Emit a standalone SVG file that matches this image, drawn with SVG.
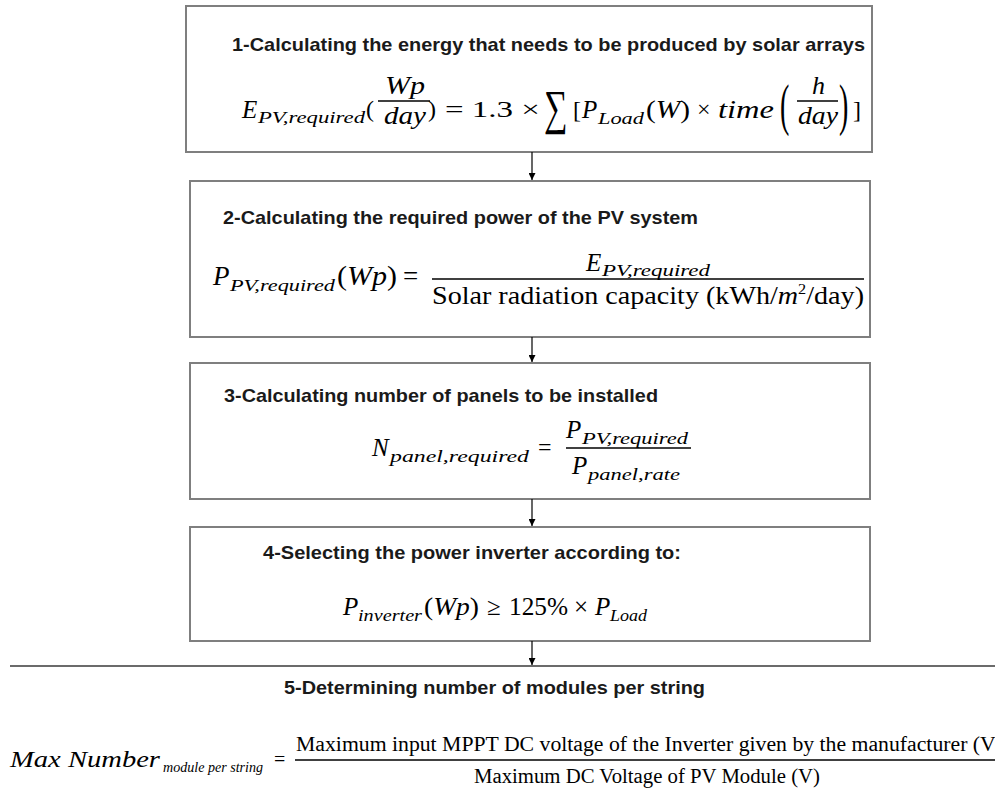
<svg xmlns="http://www.w3.org/2000/svg" width="995" height="798" viewBox="0 0 995 798">
<style>
.box{fill:#fff;stroke:#7f7f7f;stroke-width:2}
.t{font-family:"Liberation Sans",Arial,sans-serif;font-weight:bold;font-size:19px;fill:#1a1a1a}
.m{font-family:"Liberation Serif","Times New Roman",serif;font-size:24px;fill:#000}
.s{font-family:"Liberation Serif","Times New Roman",serif;font-size:16px;font-style:italic;fill:#000}
.i{font-style:italic}
.bar{stroke:#000;stroke-width:1.3}
.conn line{stroke:#000;stroke-width:1.2}
</style>
<defs>
<marker id="ah" viewBox="0 0 10 10" refX="10" refY="5" markerWidth="7" markerHeight="7" orient="auto" markerUnits="userSpaceOnUse">
<path d="M0,0 L10,5 L0,10 z" fill="#000"/>
</marker>
</defs>
<rect width="995" height="798" fill="#fff"/>

<g id="node1">
<rect class="box" x="186" y="6" width="686" height="146"/>
<text class="t" x="232" y="51" textLength="633" lengthAdjust="spacingAndGlyphs">1-Calculating the energy that needs to be produced by solar arrays</text>
<text class="m i" x="242" y="118" style="font-size:25px">E</text>
<text class="s" x="258" y="123" textLength="107" lengthAdjust="spacingAndGlyphs">PV,required</text>
<text class="m" x="366" y="117">(</text>
<text class="m i" x="385" y="94" style="font-size:26px" textLength="40" lengthAdjust="spacingAndGlyphs">Wp</text>
<line class="bar" x1="378" y1="101" x2="430" y2="101"/>
<text class="m i" x="384" y="124" style="font-size:26px" textLength="42" lengthAdjust="spacingAndGlyphs">day</text>
<text class="m" x="428" y="117">)</text>
<text class="m" x="445" y="117" textLength="95" lengthAdjust="spacingAndGlyphs">= 1.3 ×</text>
<text class="m" transform="translate(544,124) scale(0.75,1.1)" style="font-size:44px">∑</text>
<text class="m" x="573" y="118">[</text>
<text class="m i" x="582" y="118" style="font-size:25px">P</text>
<text class="s" x="598" y="124" textLength="46" lengthAdjust="spacingAndGlyphs">Load</text>
<text class="m" x="646" y="118" style="font-size:25px" textLength="44" lengthAdjust="spacingAndGlyphs">(<tspan class="i">W</tspan>)</text>
<text class="m" x="697" y="117">×</text>
<text class="m i" x="718" y="118" style="font-size:26px" textLength="56" lengthAdjust="spacingAndGlyphs">time</text>
<text class="m" transform="translate(780,124) scale(0.5,1)" style="font-size:56px">(</text>
<text class="m i" x="812" y="94" style="font-size:26px">h</text>
<line class="bar" x1="797" y1="101" x2="838" y2="101"/>
<text class="m i" x="798" y="124" style="font-size:26px" textLength="40" lengthAdjust="spacingAndGlyphs">day</text>
<text class="m" transform="translate(839,124) scale(0.5,1)" style="font-size:56px">)</text>
<text class="m" x="853" y="118">]</text>
</g>

<g id="node2">
<rect class="box" x="190" y="181" width="680" height="156"/>
<text class="t" x="223" y="224" textLength="475" lengthAdjust="spacingAndGlyphs">2-Calculating the required power of the PV system</text>
<text class="m i" x="213" y="285" style="font-size:27px">P</text>
<text class="s" x="230" y="291" style="font-size:17px" textLength="105" lengthAdjust="spacingAndGlyphs">PV,required</text>
<text class="m" x="337" y="285" style="font-size:27px" textLength="60" lengthAdjust="spacingAndGlyphs">(<tspan class="i">Wp</tspan>)</text>
<text class="m" x="403" y="285" style="font-size:27px">=</text>
<text class="m i" x="586" y="271" style="font-size:25px">E</text>
<text class="s" x="602" y="276" textLength="108" lengthAdjust="spacingAndGlyphs">PV,required</text>
<line class="bar" x1="432" y1="279" x2="864" y2="279"/>
<text class="m" x="432" y="304" style="font-size:26px" textLength="432" lengthAdjust="spacingAndGlyphs">Solar radiation capacity (kWh/<tspan class="i">m</tspan><tspan dy="-10" style="font-size:15px">2</tspan><tspan dy="10">/day)</tspan></text>
</g>

<g id="node3">
<rect class="box" x="190" y="363" width="680" height="136"/>
<text class="t" x="224" y="402" textLength="434" lengthAdjust="spacingAndGlyphs">3-Calculating number of panels to be installed</text>
<text class="m i" x="372" y="456" style="font-size:25px">N</text>
<text class="s" x="390" y="462" textLength="139" lengthAdjust="spacingAndGlyphs">panel,required</text>
<text class="m" x="538" y="455">=</text>
<text class="m i" x="566" y="438" style="font-size:25px">P</text>
<text class="s" x="582" y="444" textLength="106" lengthAdjust="spacingAndGlyphs">PV,required</text>
<line class="bar" x1="566" y1="448" x2="691" y2="448"/>
<text class="m i" x="572" y="474" style="font-size:25px">P</text>
<text class="s" x="588" y="480" textLength="92" lengthAdjust="spacingAndGlyphs">panel,rate</text>
</g>

<g id="node4">
<rect class="box" x="190" y="527" width="680" height="114"/>
<text class="t" x="263" y="559" textLength="418" lengthAdjust="spacingAndGlyphs">4-Selecting the power inverter according to:</text>
<text class="m i" x="343" y="615" style="font-size:25px">P</text>
<text class="s" x="358" y="621" textLength="64" lengthAdjust="spacingAndGlyphs">inverter</text>
<text class="m" x="424" y="615" style="font-size:25px" textLength="55" lengthAdjust="spacingAndGlyphs">(<tspan class="i">Wp</tspan>)</text>
<text class="m" x="487" y="615" style="font-size:25px">≥</text>
<text class="m" x="509" y="615" style="font-size:25px" textLength="59" lengthAdjust="spacingAndGlyphs">125%</text>
<text class="m" x="574" y="615" style="font-size:25px">×</text>
<text class="m i" x="595" y="615" style="font-size:25px">P</text>
<text class="s" x="610" y="621" textLength="37" lengthAdjust="spacingAndGlyphs">Load</text>
</g>

<g id="node5">
<line x1="10" y1="666" x2="995" y2="666" stroke="#3a3a3a" stroke-width="1.5"/>
<text class="t" x="284" y="694" textLength="421" lengthAdjust="spacingAndGlyphs">5-Determining number of modules per string</text>
<text class="m i" x="10" y="767" style="font-size:23px" textLength="150" lengthAdjust="spacingAndGlyphs">Max Number</text>
<text class="s" x="163" y="772" style="font-size:14px" textLength="100" lengthAdjust="spacingAndGlyphs">module per string</text>
<text class="m" x="274" y="766" style="font-size:20px">=</text>
<text class="m" x="296" y="751" style="font-size:20px" textLength="707" lengthAdjust="spacingAndGlyphs">Maximum input MPPT DC voltage of the Inverter given by the manufacturer (V)</text>
<line class="bar" x1="295" y1="760" x2="995" y2="760"/>
<text class="m" x="474" y="783" style="font-size:20px" textLength="346" lengthAdjust="spacingAndGlyphs">Maximum DC Voltage of PV Module (V)</text>
</g>

<g id="connectors" class="conn">
<line x1="532" y1="152" x2="532" y2="180" marker-end="url(#ah)"/>
<line x1="532" y1="337" x2="532" y2="362" marker-end="url(#ah)"/>
<line x1="532" y1="499" x2="532" y2="526" marker-end="url(#ah)"/>
<line x1="532" y1="641" x2="532" y2="665" marker-end="url(#ah)"/>
</g>
</svg>
